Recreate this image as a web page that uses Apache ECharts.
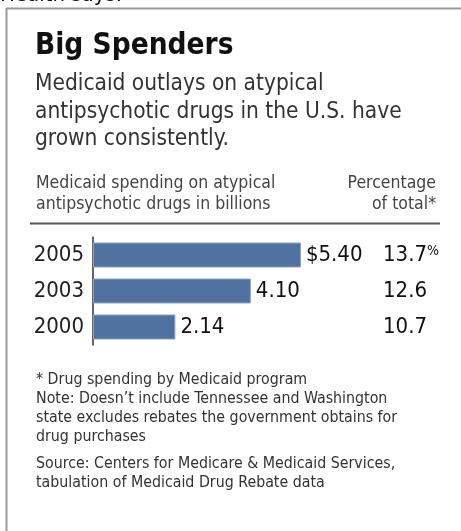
<!DOCTYPE html>
<html><head><meta charset="utf-8">
<script src="https://cdn.jsdelivr.net/npm/echarts@6/dist/echarts.min.js"></script>
<style>html,body{margin:0;padding:0;background:#fff}#c{width:461px;height:531px}</style>
</head><body><div id="c"></div>
<script>
const years = ['2000', '2003', '2005'];
const spending = [2.14, 4.10, 5.40];
const pctOfTotal = ['10.7', '12.6', '13.7'];
const titleText = 'Big Spenders';
const subtitleLines = ['Medicaid outlays on atypical', 'antipsychotic drugs in the U.S. have', 'grown consistently.'];
const headerLeft = ['Medicaid spending on atypical', 'antipsychotic drugs in billions'];
const headerRight = ['Percentage', 'of total*'];
const noteLines = ['* Drug spending by Medicaid program', 'Note: Doesn\u2019t include Tennessee and Washington', 'state excludes rebates the government obtains for', 'drug purchases'];
const sourceLines = ['Source: Centers for Medicare & Medicaid Services,', 'tabulation of Medicaid Drug Rebate data'];

const FONT = '"DejaVu Sans Condensed", "DejaVu Sans", sans-serif';
const NUMFONT = FONT;
const chart = echarts.init(document.getElementById('c'), null, {renderer: 'canvas'});

const graphics = [
  {type: 'text', x: 0, y: -16, style: {text: 'Health says.', font: '22px ' + FONT, fill: '#111'}},
  {type: 'line', shape: {x1: 6, y1: 8.5, x2: 461, y2: 8.5}, style: {stroke: '#999', lineWidth: 2}},
  {type: 'line', shape: {x1: 6.5, y1: 8, x2: 6.5, y2: 531}, style: {stroke: '#999', lineWidth: 2}},
  {type: 'text', x: 35, y: 31, style: {text: titleText, font: 'bold 29.5px ' + FONT, fill: '#111'}},
  {type: 'line', shape: {x1: 30, y1: 223.5, x2: 440, y2: 223.5}, style: {stroke: '#555', lineWidth: 2}}
];
subtitleLines.forEach((t, i) => graphics.push({type: 'text', x: 35, y: 73 + i * 27.5, style: {text: t, font: '22.5px ' + FONT, fill: '#333'}}));
headerLeft.forEach((t, i) => graphics.push({type: 'text', x: 36, y: 174 + i * 21, style: {text: t, font: '17.5px ' + FONT, fill: '#444'}}));
headerRight.forEach((t, i) => graphics.push({type: 'text', x: 436, y: 174 + i * 21, style: {text: t, font: '17.5px ' + FONT, fill: '#444', textAlign: 'right'}}));
noteLines.forEach((t, i) => graphics.push({type: 'text', x: 36, y: 371.5 + i * 19, style: {text: t, font: '15.8px ' + FONT, fill: '#333'}}));
sourceLines.forEach((t, i) => graphics.push({type: 'text', x: 36, y: 456 + i * 19, style: {text: t, font: '15.8px ' + FONT, fill: '#333'}}));

chart.setOption({
  animation: false,
  grid: {left: 93, right: 137, top: 237, bottom: 186, containLabel: false},
  xAxis: {type: 'value', min: 0, max: 6, show: false},
  yAxis: [
    {type: 'category', data: years, position: 'left',
     axisLine: {show: true, lineStyle: {color: '#333', width: 1.5}},
     axisTick: {show: false},
     axisLabel: {interval: 0, fontFamily: NUMFONT, fontSize: 22, color: '#222', margin: 9}},
    {type: 'category', data: pctOfTotal, position: 'right',
     axisLine: {show: false}, axisTick: {show: false},
     axisLabel: {interval: 0, fontFamily: NUMFONT, fontSize: 22, color: '#111', margin: 59, align: 'left',
       formatter: (v, i) => i === pctOfTotal.length - 1 ? v + '{p|%}' : v,
       rich: {p: {fontFamily: NUMFONT, fontSize: 14, color: '#111', verticalAlign: 'top', padding: [0, 0, 3, 0]}}}}
  ],
  series: [{
    type: 'bar', data: spending, barWidth: 25, yAxisIndex: 0,
    itemStyle: {color: '#4f72a1', borderColor: '#8aa3c4', borderWidth: 1},
    label: {show: true, position: 'right', distance: 5, fontFamily: NUMFONT, fontSize: 22, color: '#111',
      formatter: p => (p.dataIndex === spending.length - 1 ? '$' : '') + p.value.toFixed(2)}
  }],
  graphic: graphics
});
</script></body></html>
